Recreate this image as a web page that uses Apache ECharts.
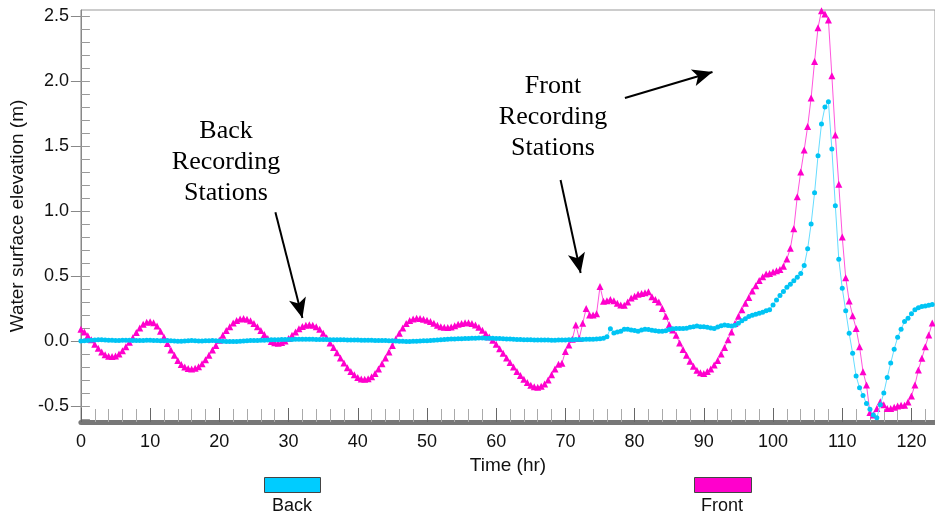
<!DOCTYPE html>
<html>
<head>
<meta charset="utf-8">
<script src="https://cdn.jsdelivr.net/npm/echarts@6/dist/echarts.min.js"></script>
<style>
  html, body { margin: 0; padding: 0; background: #fff; }
  #chart { width: 935px; height: 516px; }
</style>
</head>
<body>
<div id="chart"></div>
<script>
// water surface elevation at back / front recording stations, sampled every 0.5 hr
const STEP_HR = 0.5;

// Front stations (magenta triangles), one row per 10 hr
const frontVals = [
  0.09, 0.07, 0.04, 0.01, -0.025, -0.055, -0.085, -0.105, -0.117, -0.12, -0.115, -0.10, -0.075, -0.045, -0.01, 0.025, 0.065, 0.10, 0.128, 0.145,
  0.148, 0.14, 0.115, 0.075, 0.03, -0.02, -0.07, -0.11, -0.15, -0.18, -0.2, -0.212, -0.215, -0.21, -0.198, -0.175, -0.145, -0.11, -0.07, -0.035,
  0.005, 0.045, 0.08, 0.11, 0.138, 0.158, 0.17, 0.173, 0.168, 0.155, 0.135, 0.11, 0.08, 0.05, 0.02, -0.003, -0.013, -0.017, -0.012, 0.0,
  0.02, 0.045, 0.07, 0.095, 0.112, 0.122, 0.125, 0.122, 0.11, 0.09, 0.06, 0.025, -0.015, -0.05, -0.09, -0.13, -0.17, -0.205, -0.235, -0.26,
  -0.28, -0.292, -0.295, -0.29, -0.275, -0.25, -0.215, -0.175, -0.13, -0.085, -0.035, 0.015, 0.06, 0.1, 0.135, 0.158, 0.17, 0.175, 0.173, 0.168,
  0.16, 0.15, 0.137, 0.122, 0.11, 0.105, 0.104, 0.108, 0.118, 0.128, 0.135, 0.14, 0.14, 0.135, 0.123, 0.105, 0.082, 0.055, 0.03, 0.005,
  -0.025, -0.06, -0.095, -0.13, -0.165, -0.2, -0.235, -0.265, -0.295, -0.32, -0.34, -0.352, -0.355, -0.348, -0.33, -0.3, -0.26, -0.215, -0.178, -0.172,
  -0.08, -0.03, 0.013, 0.123, 0.02, 0.136, 0.25, 0.2, 0.2, 0.21, 0.42, 0.305, 0.31, 0.32, 0.31, 0.29, 0.277, 0.275, 0.30, 0.33,
  0.345, 0.36, 0.366, 0.372, 0.378, 0.34, 0.32, 0.30, 0.25, 0.19, 0.125, 0.085, 0.045, -0.015, -0.065, -0.11, -0.155, -0.195, -0.225, -0.245,
  -0.25, -0.235, -0.215, -0.185, -0.15, -0.1, -0.05, 0.01, 0.07, 0.135, 0.19, 0.24, 0.29, 0.335, 0.385, 0.425, 0.465, 0.495, 0.515, 0.52,
  0.53, 0.54, 0.55, 0.575, 0.63, 0.713, 0.864, 1.11, 1.30, 1.47, 1.65, 1.87, 2.15, 2.41, 2.54, 2.515, 2.47, 2.04, 1.585, 1.205,
  0.80, 0.487, 0.308, 0.195, 0.097, -0.044, -0.236, -0.338, -0.55, -0.57, -0.52, -0.467, -0.49, -0.52, -0.52, -0.51, -0.5, -0.495, -0.495, -0.47,
  -0.423, -0.338, -0.223, -0.133, -0.044, 0.046, 0.138
];

// Back stations (cyan dots)
const backVals = [
  0.0, 0.001, 0.003, 0.005, 0.008, 0.01, 0.01, 0.008, 0.006, 0.005, 0.004, 0.004, 0.005, 0.006, 0.005, 0.004, 0.003, 0.003, 0.004, 0.005,
  0.005, 0.004, 0.003, 0.002, 0.002, 0.003, 0.002, 0.0, -0.002, -0.002, 0.0, 0.002, 0.003, 0.002, 0.0, 0.0, 0.001, 0.002, 0.003, 0.002,
  0.0, -0.002, -0.003, -0.004, -0.004, -0.003, -0.002, 0.0, 0.002, 0.003, 0.004, 0.004, 0.005, 0.006, 0.008, 0.009, 0.01, 0.01, 0.011, 0.011,
  0.012, 0.012, 0.013, 0.013, 0.014, 0.014, 0.013, 0.013, 0.012, 0.012, 0.011, 0.011, 0.01, 0.01, 0.01, 0.009, 0.009, 0.008, 0.008, 0.008,
  0.007, 0.006, 0.006, 0.005, 0.005, 0.004, 0.004, 0.003, 0.003, 0.002, 0.002, 0.0, -0.001, -0.002, -0.003, -0.003, -0.002, -0.001, 0.0, 0.001,
  0.002, 0.004, 0.006, 0.008, 0.01, 0.012, 0.014, 0.015, 0.016, 0.017, 0.018, 0.019, 0.02, 0.021, 0.022, 0.023, 0.023, 0.022, 0.022, 0.021,
  0.02, 0.019, 0.018, 0.016, 0.015, 0.013, 0.012, 0.011, 0.01, 0.009, 0.009, 0.008, 0.008, 0.008, 0.007, 0.007, 0.006, 0.006, 0.007, 0.007,
  0.008, 0.01, 0.01, 0.011, 0.012, 0.012, 0.013, 0.013, 0.014, 0.015, 0.018, 0.022, 0.033, 0.095, 0.062, 0.07, 0.075, 0.09, 0.09, 0.085,
  0.08, 0.075, 0.085, 0.09, 0.088, 0.083, 0.078, 0.075, 0.075, 0.078, 0.088, 0.095, 0.097, 0.097, 0.097, 0.098, 0.105, 0.11, 0.115, 0.11,
  0.11, 0.105, 0.1, 0.097, 0.108, 0.118, 0.123, 0.12, 0.115, 0.122, 0.136, 0.155, 0.172, 0.188, 0.198, 0.206, 0.213, 0.222, 0.232, 0.24,
  0.277, 0.315, 0.35, 0.38, 0.413, 0.436, 0.464, 0.49, 0.52, 0.58, 0.71, 0.90, 1.14, 1.425, 1.67, 1.80, 1.84, 1.477, 1.04, 0.628,
  0.405, 0.233, 0.059, -0.095, -0.27, -0.36, -0.42, -0.48, -0.525, -0.57, -0.59, -0.49, -0.40, -0.28, -0.17, -0.064, 0.028, 0.09, 0.15, 0.175,
  0.21, 0.24, 0.255, 0.265, 0.27, 0.275, 0.28
];

const yLabelTicks = [-0.5, 0, 0.5, 1.0, 1.5, 2.0, 2.5];
const yMinorTicks = [];
for (let k = -6; k <= 25; k++) yMinorTicks.push(k / 10);

// arrows: [tail, head] in (hr, m)
const arrowBack = [[28.1, 0.99], [32.0, 0.177]];
const arrowFront1 = [[69.3, 1.238], [72.2, 0.523]];
const arrowFront2 = [[78.6, 1.869], [91.25, 2.069]];

const toPts = vals => vals.map((v, i) => [i * STEP_HR, v]);
const FONT = "Liberation Sans";

const chart = echarts.init(document.getElementById("chart"));
chart.setOption({
  animation: false,
  backgroundColor: "#fff",
  grid: { left: 77, top: 10, right: -2, bottom: 94, show: true, borderColor: "#999", borderWidth: 1 },
  xAxis: {
    type: "value", min: 0, max: 123.4, interval: 10,
    name: "Time (hr)", nameLocation: "middle", nameGap: 31,
    nameTextStyle: { fontFamily: FONT, fontSize: 19, color: "#111" },
    axisLine: { onZero: false, lineStyle: { color: "#777", width: 5 } },
    axisTick: { inside: true, length: 14, lineStyle: { color: "#666" } },
    minorTick: { show: true, splitNumber: 5, length: 13, lineStyle: { color: "#aaa" } },
    axisLabel: { fontFamily: FONT, fontSize: 18, color: "#111", margin: 11, showMaxLabel: false },
    splitLine: { show: false }
  },
  yAxis: [{
    type: "value", min: -0.623, max: 2.546,
    name: "Water surface elevation (m)", nameLocation: "middle", nameGap: 51,
    nameTextStyle: { fontFamily: FONT, fontSize: 19, color: "#111" },
    axisLine: { show: true, lineStyle: { color: "#888" } },
    axisTick: { show: true, length: 10, customValues: yLabelTicks, lineStyle: { color: "#888" } },
    axisLabel: { fontFamily: FONT, fontSize: 18, color: "#111", margin: 12, customValues: yLabelTicks,
                 formatter: v => v.toFixed(1) },
    splitLine: { show: false }
  }, {
    type: "value", min: -0.623, max: 2.546, position: "left", offset: 0,
    axisLine: { show: false },
    axisTick: { show: true, inside: true, length: 9, customValues: yMinorTicks, lineStyle: { color: "#999" } },
    axisLabel: { show: false },
    splitLine: { show: false }
  }],
  legend: [
    { data: [{ name: "Back", icon: "rect", itemStyle: { color: "#00ccff" } }], left: 264, top: 477, padding: 0,
      itemWidth: 56, itemHeight: 15, formatter: () => "", selectedMode: false,
      itemStyle: { borderColor: "#444", borderWidth: 1 } },
    { data: [{ name: "Front", icon: "rect", itemStyle: { color: "#ff00cc" } }], left: 694, top: 477, padding: 0,
      itemWidth: 57, itemHeight: 15, formatter: () => "", selectedMode: false,
      itemStyle: { borderColor: "#444", borderWidth: 1 } }
  ],
  graphic: [
    { type: "text", style: { text: "Back", x: 292, y: 506, align: "center", verticalAlign: "middle",
      font: "18px Liberation Sans", fill: "#111" } },
    { type: "text", style: { text: "Front", x: 722, y: 506, align: "center", verticalAlign: "middle",
      font: "18px Liberation Sans", fill: "#111" } },
    { type: "text", style: { text: "Back\nRecording\nStations", x: 226, y: 162, align: "center", verticalAlign: "middle",
      font: "26px Liberation Serif", lineHeight: 31, fill: "#000" } },
    { type: "text", style: { text: "Front\nRecording\nStations", x: 553, y: 117, align: "center", verticalAlign: "middle",
      font: "26px Liberation Serif", lineHeight: 31, fill: "#000" } }
  ],
  series: [{
    name: "Front", type: "line", data: toPts(frontVals), z: 3,
    symbol: "triangle", symbolSize: 7, showAllSymbol: true,
    itemStyle: { color: "#ff00cc" }, lineStyle: { color: "#ff55dd", width: 1 },
    markLine: {
      silent: true, symbol: ["none", "arrow"], symbolSize: [13, 20], label: { show: false },
      lineStyle: { color: "#000", width: 2, type: "solid" },
      emphasis: { disabled: true },
      data: [arrowBack, arrowFront1, arrowFront2].map(a => [{ coord: a[0] }, { coord: a[1] }])
    }
  }, {
    name: "Back", type: "line", data: toPts(backVals), z: 4,
    symbol: "circle", symbolSize: 5, showAllSymbol: true,
    itemStyle: { color: "#00c4f4" }, lineStyle: { color: "#66dcff", width: 1 }
  }]
});
</script>
</body>
</html>
